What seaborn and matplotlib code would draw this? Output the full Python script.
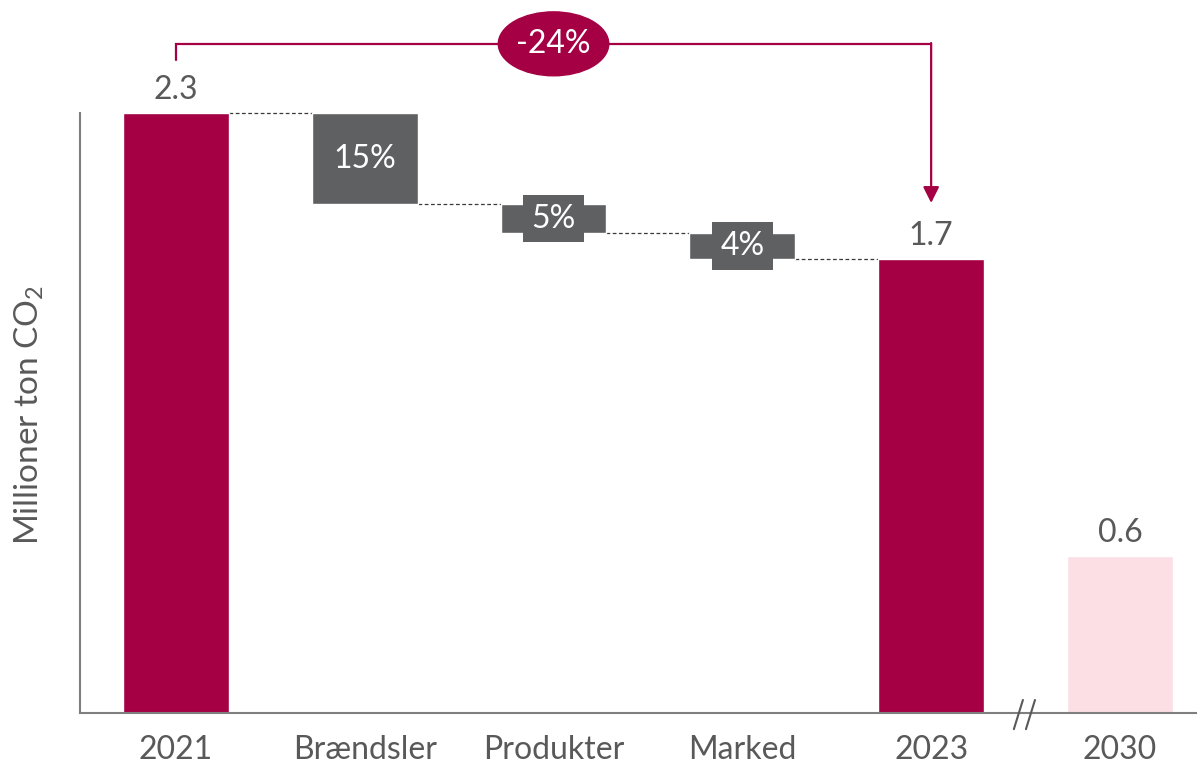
import matplotlib
matplotlib.use("Agg")
import matplotlib.pyplot as plt
from matplotlib.patches import Ellipse
import seaborn as sns
import pandas as pd

# Emissions, million tonnes CO2
categories = ["2021", "Brændsler", "Produkter", "Marked", "2023", "2030"]
totals = {"2021": 2.3, "2023": 1.74, "2030": 0.6}
step_names = ["Brændsler", "Produkter", "Marked"]
step_drops = [0.35, 0.11, 0.10]

CRIMSON = "#A50044"
PINK = "#FCDFE5"
GREY_BOX = "#5F6062"
TEXT = "#595959"
SPINE = "#7F7F7F"
FS = 23

sns.set_theme(style="white")
plt.rcParams["font.family"] = ["Lato", "DejaVu Sans"]
plt.rcParams["mathtext.fontset"] = "custom"
plt.rcParams["mathtext.rm"] = "Lato"
plt.rcParams["mathtext.it"] = "Lato"

fig = plt.figure(figsize=(11.97, 7.64), dpi=100)
ax = fig.add_axes([80 / 1197, 51 / 764, 1117 / 1197, 713 / 764])

df = pd.DataFrame({
    "category": categories,
    "value": [totals.get(c, float("nan")) for c in categories],
})
palette = {"2021": CRIMSON, "2023": CRIMSON, "2030": PINK,
           "Brændsler": GREY_BOX, "Produkter": GREY_BOX, "Marked": GREY_BOX}
bar_w = 0.56
sns.barplot(data=df, x="category", y="value", hue="category", order=categories,
            palette=palette, width=bar_w, legend=False, saturation=1,
            ax=ax, zorder=2)

# floating waterfall steps
base = totals["2021"]
level = base
pos = {c: i for i, c in enumerate(categories)}
prev_x = pos["2021"]
for name, drop in zip(step_names, step_drops):
    x = pos[name]
    ax.plot([prev_x + bar_w / 2, x - bar_w / 2], [level, level],
            ls=(0, (3, 2)), color="#3A3A3A", lw=0.9, zorder=1)
    ax.bar(x, -drop, bottom=level, width=bar_w, color=GREY_BOX, zorder=2)
    ax.text(x, level - drop / 2, f"{drop / base:.0%}", ha="center", va="center",
            color="white", fontsize=FS, zorder=4,
            bbox=dict(boxstyle="square,pad=0.27", fc=GREY_BOX, ec="none"))
    level -= drop
    prev_x = x
ax.plot([prev_x + bar_w / 2, pos["2023"] - bar_w / 2], [level, level],
        ls=(0, (3, 2)), color="#3A3A3A", lw=0.9, zorder=1)

# value labels on totals
for c, v in totals.items():
    ax.annotate(f"{v:.1f}", (pos[c], v), xytext=(0, 6), textcoords="offset points",
                ha="center", va="bottom", fontsize=FS, color=TEXT)

# change bracket with arrow
y_br = 2.565
ax.plot([pos["2021"], pos["2021"], pos["2023"]], [2.503, y_br, y_br],
        color=CRIMSON, lw=1.6, zorder=3, solid_joinstyle="miter")
ax.annotate("", xy=(pos["2023"], 1.955), xytext=(pos["2023"], y_br + 0.003),
            arrowprops=dict(arrowstyle="-|>", color=CRIMSON, lw=1.6,
                            mutation_scale=24, shrinkA=0, shrinkB=0), zorder=3)
change = (totals["2023"] - base) / base
ax.add_patch(Ellipse((2.0, y_br), 0.585, 0.245, color=CRIMSON, zorder=4))
ax.text(2.0, y_br, f"{change:.0%}", ha="center", va="center", color="white",
        fontsize=FS, zorder=5)

# axis break marks between 2023 and 2030
for xb in (4.462, 4.526):
    ax.plot([xb - 0.024, xb + 0.024], [-0.062, 0.05], color="#595959", lw=1.5,
            clip_on=False, zorder=5)

ax.set_xlim(-0.508, 5.408)
ax.set_ylim(0, 2.733)
ax.set_xlabel("")
ax.set_ylabel("Millioner ton CO$_2$", fontsize=FS + 1, color=TEXT)
ax.yaxis.set_label_coords(-0.03, 0.418)
ax.set_yticks([])
ax.tick_params(axis="x", length=0, pad=16, labelsize=FS, labelcolor=TEXT)
sns.despine(ax=ax, top=True, right=True)
for s in ("left", "bottom"):
    ax.spines[s].set_color(SPINE)
    ax.spines[s].set_linewidth(1.5)
ax.spines["left"].set_bounds(0, 2.3)

fig.savefig("out.png", dpi=100, facecolor="white")
